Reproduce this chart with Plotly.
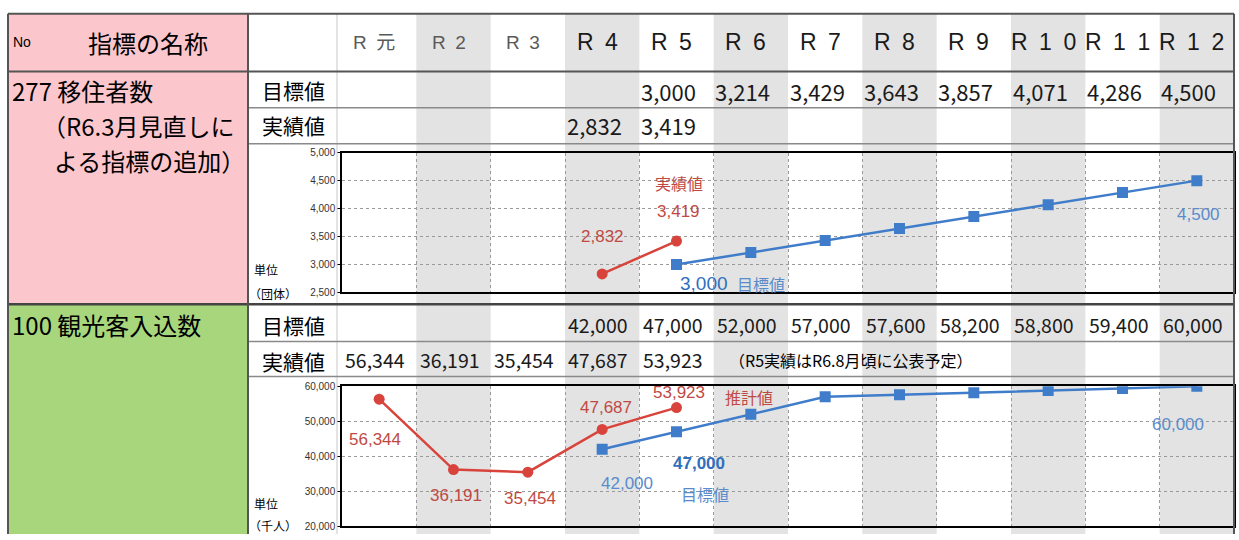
import plotly.graph_objects as go

# ---- data -------------------------------------------------------------
years = ["R元", "R2", "R3", "R4", "R5", "R6", "R7", "R8", "R9", "R10", "R11", "R12"]

# 277 移住者数 (団体)
migr_target = [None, None, None, None, 3000, 3214, 3429, 3643, 3857, 4071, 4286, 4500]
migr_actual = [None, None, None, 2832, 3419, None, None, None, None, None, None, None]

# 100 観光客入込数 (千人)
tour_target = [None, None, None, 42000, 47000, 52000, 57000, 57600, 58200, 58800, 59400, 60000]
tour_actual = [56344, 36191, 35454, 47687, 53923, None, None, None, None, None, None, None]

migr_ticks = [2500, 3000, 3500, 4000, 4500, 5000]
tour_ticks = [20000, 30000, 40000, 50000, 60000]

# ---- page geometry (pixels) -----------------------------------------
W, H = 1239, 540


def px(x):
    return x / W


def py(y):
    return 1 - y / H


RED = "#d8443c"
RED_TXT = "#bf4a44"
BLUE = "#3f7cc9"
BLUE_TXT = "#5a8ccc"
BLUE_BOLD = "#2f6fbd"
PINK = "#fcc7cc"
GREEN = "#a8d67d"
SHADE = "#e3e3e3"
BORDER = "#555555"
THIN = "#8a8a8a"

NUM = "Noto Sans CJK JP"
SANS = "Liberation Sans, Noto Sans CJK JP"
CJK = "Noto Sans CJK JP"

fig = go.Figure()

# ---- line charts ------------------------------------------------------
fig.add_trace(go.Scatter(x=years, y=migr_actual, mode="lines+markers",
                         line=dict(color=RED, width=2.5),
                         marker=dict(symbol="circle", size=11, color=RED),
                         xaxis="x", yaxis="y", hoverinfo="skip"))
fig.add_trace(go.Scatter(x=years, y=migr_target, mode="lines+markers",
                         line=dict(color=BLUE, width=2.5),
                         marker=dict(symbol="square", size=11, color=BLUE),
                         xaxis="x", yaxis="y", hoverinfo="skip"))
fig.add_trace(go.Scatter(x=years, y=tour_actual, mode="lines+markers",
                         line=dict(color=RED, width=2.5),
                         marker=dict(symbol="circle", size=11, color=RED),
                         xaxis="x2", yaxis="y2", hoverinfo="skip"))
fig.add_trace(go.Scatter(x=years, y=tour_target, mode="lines+markers",
                         line=dict(color=BLUE, width=2.5),
                         marker=dict(symbol="square", size=11, color=BLUE),
                         xaxis="x2", yaxis="y2", hoverinfo="skip"))

xcommon = dict(type="category", categoryorder="array", categoryarray=years,
               range=[-0.5, len(years) - 0.5], domain=[px(342), px(1234)],
               showticklabels=False, ticks="", tickson="boundaries",
               showgrid=True, gridcolor="#9a9a9a", griddash="dot", gridwidth=1,
               showline=True, linecolor="black", linewidth=1.5, mirror=True,
               zeroline=False, fixedrange=True)
ycommon = dict(showgrid=True, gridcolor="#9a9a9a", griddash="dot", gridwidth=1,
               showline=True, linecolor="black", linewidth=1.5, mirror=True,
               ticks="outside", ticklen=3, tickcolor="black",
               tickformat=",", zeroline=False, fixedrange=True,
               tickfont=dict(family=SANS, size=10, color="#333"))

fig.update_layout(
    xaxis=dict(xcommon, anchor="y"),
    yaxis=dict(ycommon, anchor="x", domain=[py(293), py(150)],
               range=[migr_ticks[0], migr_ticks[-1]], tickvals=migr_ticks),
    xaxis2=dict(xcommon, anchor="y2"),
    yaxis2=dict(ycommon, anchor="x2", domain=[py(532), py(389)],
                range=[tour_ticks[0], tour_ticks[-1]], tickvals=tour_ticks),
)

# ---- table background and rules -------------------------------------
shapes = []


def rect(x0, y0, x1, y1, color):
    shapes.append(dict(type="rect", xref="paper", yref="paper", layer="below",
                       x0=px(x0), x1=px(x1), y0=py(y1), y1=py(y0),
                       fillcolor=color, line=dict(width=0)))


def hline(y, x0, x1, color, width):
    shapes.append(dict(type="line", xref="paper", yref="paper", layer="above",
                       x0=px(x0), x1=px(x1), y0=py(y), y1=py(y),
                       line=dict(color=color, width=width)))


def vline(x, y0, y1, color, width):
    shapes.append(dict(type="line", xref="paper", yref="paper", layer="above",
                       x0=px(x), x1=px(x), y0=py(y0), y1=py(y1),
                       line=dict(color=color, width=width)))


rect(8, 8, 248, 305, PINK)
rect(8, 305, 248, 540, GREEN)

# alternating grey year columns (R2, R4, ... R12)
for i in range(1, len(years), 2):
    shapes.append(dict(type="rect", xref="x", yref="paper", layer="below",
                       x0=i - 0.5, x1=i + 0.5, y0=0, y1=py(8),
                       fillcolor=SHADE, line=dict(width=0)))

vline(337, 8, 540, "#c8c8c8", 1)
hline(104, 248, 1234, THIN, 1.5)
hline(141, 248, 1234, THIN, 1.5)
hline(343, 248, 1234, THIN, 1.5)
hline(379, 248, 1234, THIN, 1.5)
hline(8, 8, 1234, BORDER, 2)
hline(67, 8, 1234, BORDER, 2)
hline(305, 8, 1234, "#444444", 2.5)
vline(8, 8, 540, BORDER, 2)
vline(248, 8, 540, BORDER, 2)
vline(1234, 8, 540, BORDER, 2)

fig.update_layout(shapes=shapes)

# ---- table text -------------------------------------------------------
ann = []


def ptext(text, x, y, size, family=CJK, color="black", anchor="left"):
    ann.append(dict(text=text, x=px(x), y=py(y), xref="paper", yref="paper",
                    xanchor=anchor, yanchor="middle", showarrow=False,
                    font=dict(family=family, size=size, color=color)))


ptext("No", 11, 37, 14, family=SANS)
ptext("指標の名称", 148, 37, 24, anchor="center")
ptext("277 移住者数", 10, 86, 24, family=NUM)
ptext("（R6.3月見直しに", 40, 122, 24, family=NUM)
ptext("よる指標の追加）", 52, 158, 24)
ptext("100 観光客入込数", 10, 326, 24, family=NUM)

for ylab, yrow in (("目標値", 86), ("実績値", 122), ("目標値", 326), ("実績値", 363)):
    ptext(ylab, 293, yrow, 21, anchor="center")

ptext("単位", 252, 269, 12)
ptext("（団体）", 247, 294, 12)
ptext("単位", 252, 509, 12)
ptext("（千人）", 247, 531, 12)


def spaced(label):
    return "\u2002".join(label)


for i, yr in enumerate(years):
    early = i < 3
    ann.append(dict(text=spaced(yr), x=yr, xref="x", y=py(37), yref="paper",
                    xshift=-5, showarrow=False, yanchor="middle",
                    font=dict(family=SANS, size=19 if early else 23,
                              color="#5a5a5a" if early else "#1a1a1a")))


def value_row(values, y, size, shift):
    for yr, v in zip(years, values):
        if v is None:
            continue
        ann.append(dict(text=f"{v:,}", x=yr, xref="x", y=py(y), yref="paper",
                        xshift=shift, showarrow=False, yanchor="middle",
                        font=dict(family=NUM, size=size, color="#1a1a1a")))


value_row(migr_target, 87, 22, -8)
value_row(migr_actual, 122, 22, -8)
value_row(tour_target, 326, 19.5, -4)
value_row(tour_actual, 362, 19.5, -4)

ptext("（R5実績はR6.8月頃に公表予定）", 727, 362, 16, family=NUM)


# ---- point labels inside the charts -----------------------------------
def plabel(text, xcat, yval, axis, dx, dy, color, size=17, bold=False, family=SANS):
    ann.append(dict(text=f"<b>{text}</b>" if bold else text,
                    x=xcat, y=yval, xref="x" if axis == 1 else "x2",
                    yref="y" if axis == 1 else "y2",
                    xshift=dx, yshift=dy, showarrow=False,
                    font=dict(family=family, size=size, color=color)))


i4, i5, i12 = years.index("R4"), years.index("R5"), years.index("R12")

plabel(f"{migr_actual[i4]:,}", years[i4], migr_actual[i4], 1, 0, 37, RED_TXT)
plabel(f"{migr_actual[i5]:,}", years[i5], migr_actual[i5], 1, 2, 30, RED_TXT)
plabel("実績値", years[i5], migr_actual[i5], 1, 2, 58, RED_TXT, size=16, family=CJK)
plabel(f"{migr_target[i5]:,}", years[i5], migr_target[i5], 1, 27, -19, BLUE_BOLD, size=19)
plabel("目標値", years[i5], migr_target[i5], 1, 84, -19, BLUE_TXT, size=16, family=CJK)
plabel(f"{migr_target[i12]:,}", years[i12], migr_target[i12], 1, 2, -34, BLUE_TXT)

for i in range(3):
    dy = -40 if i == 0 else -26
    plabel(f"{tour_actual[i]:,}", years[i], tour_actual[i], 2, -4 if i == 0 else 2, dy, RED_TXT)
plabel(f"{tour_actual[i4]:,}", years[i4], tour_actual[i4], 2, 4, 22, RED_TXT)
plabel(f"{tour_actual[i5]:,}", years[i5], tour_actual[i5], 2, 2, 15, RED_TXT)
plabel("推計値", years[i5], tour_actual[i5], 2, 72, 11, RED_TXT, size=16, family=CJK)
plabel(f"{tour_target[i4]:,}", years[i4], tour_target[i4], 2, 25, -34, BLUE_TXT)
plabel(f"{tour_target[i5]:,}", years[i5], tour_target[i5], 2, 22, -32, BLUE_BOLD, bold=True)
plabel("目標値", years[i5], tour_target[i5], 2, 28, -62, BLUE_TXT, size=16, family=CJK)
plabel(f"{tour_target[i12]:,}", years[i12], tour_target[i12], 2, -19, -38, BLUE_TXT)

fig.update_layout(
    annotations=ann,
    width=W, height=H,
    margin=dict(l=0, r=0, t=0, b=0),
    paper_bgcolor="white",
    plot_bgcolor="rgba(0,0,0,0)",
    showlegend=False,
)

fig.write_html("out.html", config={"displayModeBar": False})
